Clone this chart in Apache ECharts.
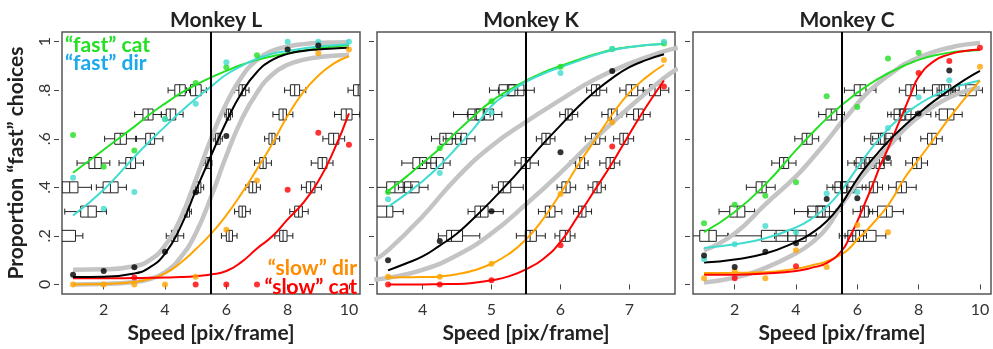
<!DOCTYPE html>
<html>
<head>
<meta charset="utf-8">
<script src="https://cdn.jsdelivr.net/npm/echarts@6/dist/echarts.min.js"></script>
<style>
  html, body { margin: 0; padding: 0; background: #fff; }
  #chart { width: 993px; height: 349px; }
</style>
</head>
<body>
<div id="chart"></div>
<script>
// ---- data: Monkey L ----
const L_x = [1, 2, 3, 3.5, 4, 4.5, 5, 5.5, 6, 6.5, 7, 7.5, 8, 8.5, 9, 9.5, 10]
const L_fastCat = [0.46, 0.555, 0.65, 0.7, 0.745, 0.787, 0.822, 0.853, 0.88, 0.905, 0.925, 0.94, 0.953, 0.963, 0.972, 0.98, 0.985]
const L_fastDir = [0.284, 0.39, 0.525, 0.59, 0.65, 0.71, 0.765, 0.815, 0.865, 0.9, 0.93, 0.95, 0.962, 0.972, 0.98, 0.985, 0.99]
const L_model = [0.03, 0.032, 0.045, 0.07, 0.127, 0.235, 0.385, 0.53, 0.67, 0.79, 0.875, 0.925, 0.95, 0.962, 0.968, 0.972, 0.975]
const L_slowDir = [0, 0.002, 0.01, 0.022, 0.045, 0.088, 0.145, 0.208, 0.285, 0.375, 0.475, 0.58, 0.695, 0.79, 0.86, 0.91, 0.94]
const L_slowCat = [0.025, 0.025, 0.026, 0.027, 0.028, 0.03, 0.034, 0.041, 0.055, 0.093, 0.148, 0.198, 0.268, 0.335, 0.425, 0.55, 0.705]
const L_grayHi = [0.06, 0.062, 0.075, 0.1, 0.16, 0.27, 0.43, 0.6, 0.745, 0.855, 0.925, 0.962, 0.98, 0.99, 0.995, 0.997, 0.998]
const L_grayLo = [0, 0.002, 0.01, 0.022, 0.05, 0.11, 0.21, 0.36, 0.53, 0.68, 0.79, 0.865, 0.905, 0.925, 0.936, 0.942, 0.945]

const L_dotX = [1, 2, 3, 4, 5, 6, 7, 8, 9, 10]
const L_dotFastCat = [0.616, 0.485, 0.552, 0.681, 0.83, 0.895, 0.944, null, null, null]
const L_dotFastDir = [0.439, 0.312, 0.381, 0.68, 0.744, 0.915, null, 1.0, 1.0, 1.0]
const L_dotModel = [0.04, 0.055, 0.071, 0.135, 0.38, 0.611, null, 0.968, 0.984, null]
const L_dotSlowDir = [0, 0, 0, 0, 0.031, 0.225, 0.428, null, 0.952, 0.968]
const L_dotSlowCat = [null, null, 0.028, null, 0, 0, 0, 0.39, 0.625, 0.575]

// [level, low whisker, q1, median, q3, high whisker]
const L_boxes = [
  [0.8, 4.1, 4.32, 4.48, 4.66, 4.8], [0.8, 4.7, 4.83, 5.0, 5.18, 5.35], [0.8, 6.27, 6.41, 6.52, 6.63, 6.74], [0.8, 7.9, 8.09, 8.23, 8.39, 8.59], [0.8, 9.97, 10.15, 10.3, 10.5, 10.7],
  [0.7, 3.01, 3.28, 3.45, 3.61, 3.88], [0.7, 3.88, 4.04, 4.17, 4.35, 4.59], [0.7, 5.95, 6.0, 6.07, 6.14, 6.2], [0.7, 7.52, 7.72, 7.85, 7.96, 8.17], [0.7, 9.53, 9.75, 9.91, 10.1, 10.35],
  [0.6, 2.03, 2.36, 2.54, 2.74, 3.04], [0.6, 3.07, 3.37, 3.52, 3.66, 3.93], [0.6, 5.59, 5.65, 5.73, 5.8, 5.87], [0.6, 7.25, 7.39, 7.49, 7.59, 7.74], [0.6, 9.15, 9.34, 9.5, 9.67, 9.86],
  [0.5, 1.13, 1.52, 1.71, 1.92, 2.2], [0.5, 2.5, 2.72, 2.88, 3.04, 3.3], [0.5, 5.26, 5.33, 5.4, 5.48, 5.53], [0.5, 6.92, 7.09, 7.2, 7.3, 7.47], [0.5, 8.77, 8.99, 9.13, 9.28, 9.48],
  [0.4, 0.3, 0.64, 0.89, 1.16, 1.6], [0.4, 1.76, 1.98, 2.22, 2.47, 2.74], [0.4, 4.93, 5.0, 5.09, 5.17, 5.26], [0.4, 6.63, 6.74, 6.86, 6.98, 7.11], [0.4, 8.45, 8.61, 8.75, 8.89, 9.1],
  [0.3, 0.73, 1.25, 1.49, 1.76, 2.09], [0.3, 4.59, 4.64, 4.72, 4.8, 4.86], [0.3, 6.27, 6.41, 6.52, 6.63, 6.78], [0.3, 8.07, 8.23, 8.36, 8.48, 8.67],
  [0.2, 0.2, 0.45, 0.62, 1.08, 1.32], [0.2, 4.04, 4.21, 4.29, 4.42, 4.61], [0.2, 5.84, 6.0, 6.09, 6.2, 6.35], [0.2, 7.58, 7.74, 7.85, 7.98, 8.17]
]

// ---- data: Monkey K ----
const K_x = [3.5, 3.75, 4, 4.25, 4.5, 4.75, 5, 5.25, 5.5, 5.75, 6, 6.25, 6.5, 6.75, 7, 7.25, 7.5]
const K_fastCat = [0.385, 0.44, 0.5, 0.56, 0.63, 0.695, 0.755, 0.8, 0.84, 0.873, 0.9, 0.925, 0.948, 0.967, 0.978, 0.986, 0.992]
const K_fastDir = [0.32, 0.37, 0.425, 0.49, 0.565, 0.645, 0.735, 0.79, 0.835, 0.868, 0.895, 0.92, 0.945, 0.965, 0.977, 0.986, 0.992]
const K_model = [0.058, 0.085, 0.115, 0.16, 0.21, 0.275, 0.345, 0.42, 0.5, 0.58, 0.655, 0.73, 0.795, 0.85, 0.895, 0.925, 0.948]
const K_slowDir = [0.028, 0.029, 0.03, 0.033, 0.042, 0.058, 0.085, 0.125, 0.185, 0.27, 0.375, 0.49, 0.595, 0.7, 0.79, 0.855, 0.905]
const K_slowCat = [0, 0, 0, 0.001, 0.002, 0.007, 0.017, 0.033, 0.062, 0.105, 0.175, 0.28, 0.39, 0.5, 0.62, 0.735, 0.84]
const K_grayX = [3.3, 3.5, 4, 4.5, 5, 5.5, 6, 6.5, 7, 7.5, 7.7]
const K_grayHi = [0.1, 0.14, 0.28, 0.44, 0.57, 0.67, 0.76, 0.845, 0.91, 0.96, 0.975]
const K_grayLo = [0.02, 0.027, 0.06, 0.12, 0.21, 0.33, 0.46, 0.6, 0.73, 0.85, 0.89]

const K_dotX = [3.5, 4.25, 5, 6, 6.75, 7.5]
const K_dotFastCat = [0.381, 0.561, 0.755, 0.897, 0.97, 0.993]
const K_dotFastDir = [0.351, 0.459, 0.708, 0.871, 0.971, 1.0]
const K_dotModel = [0.099, 0.179, 0.301, 0.545, 0.879, null]
const K_dotSlowDir = [0.032, 0.032, 0.085, 0.372, 0.668, 0.925]
const K_dotSlowCat = [0, 0, 0.017, 0.161, 0.568, 0.815]

const K_boxes = [
  [0.8, 4.97, 5.11, 5.23, 5.34, 5.5], [0.8, 5.1, 5.25, 5.38, 5.47, 5.62], [0.8, 6.38, 6.45, 6.52, 6.57, 6.67], [0.8, 6.86, 6.95, 7.03, 7.12, 7.2], [0.8, 7.2, 7.29, 7.37, 7.45, 7.57],
  [0.7, 4.45, 4.66, 4.76, 4.88, 4.98], [0.7, 4.65, 4.78, 4.9, 5.03, 5.15], [0.7, 5.99, 6.07, 6.11, 6.17, 6.25], [0.7, 6.6, 6.69, 6.74, 6.82, 6.89], [0.7, 6.96, 7.06, 7.13, 7.2, 7.3],
  [0.6, 4.13, 4.25, 4.34, 4.43, 4.55], [0.6, 4.3, 4.48, 4.56, 4.64, 4.76], [0.6, 5.65, 5.73, 5.79, 5.85, 5.92], [0.6, 6.36, 6.45, 6.51, 6.57, 6.65], [0.6, 6.77, 6.86, 6.91, 6.98, 7.06],
  [0.5, 3.7, 3.86, 3.96, 4.06, 4.2], [0.5, 4.0, 4.12, 4.2, 4.3, 4.4], [0.5, 5.34, 5.43, 5.49, 5.56, 5.68], [0.5, 6.14, 6.22, 6.28, 6.35, 6.4], [0.5, 6.57, 6.66, 6.72, 6.78, 6.86],
  [0.4, 3.3, 3.48, 3.6, 3.72, 3.85], [0.4, 3.65, 3.74, 3.83, 3.95, 4.08], [0.4, 5.01, 5.1, 5.17, 5.28, 5.46], [0.4, 5.95, 6.02, 6.08, 6.14, 6.22], [0.4, 6.4, 6.47, 6.53, 6.59, 6.65],
  [0.3, 3.2, 3.33, 3.48, 3.57, 3.72], [0.3, 4.66, 4.76, 4.84, 4.95, 5.17], [0.3, 5.68, 5.78, 5.84, 5.92, 6.02], [0.3, 6.19, 6.26, 6.31, 6.37, 6.45],
  [0.2, 4.23, 4.35, 4.42, 4.58, 4.83], [0.2, 5.36, 5.49, 5.56, 5.65, 5.78], [0.2, 5.92, 5.99, 6.07, 6.14, 6.21]
]

// ---- data: Monkey C ----
const C_x = [1, 2, 3, 4, 4.5, 5, 5.5, 5.75, 6, 6.25, 6.5, 6.75, 7, 7.25, 7.5, 7.75, 8, 8.5, 9, 9.5, 10]
const C_fastCat = [0.215, 0.298, 0.412, 0.553, 0.62, 0.683, 0.74, 0.765, 0.79, 0.812, 0.833, 0.852, 0.87, 0.885, 0.9, 0.913, 0.925, 0.943, 0.955, 0.962, 0.966]
const C_fastDir = [0.15, 0.165, 0.19, 0.235, 0.27, 0.32, 0.39, 0.435, 0.48, 0.525, 0.567, 0.605, 0.64, 0.67, 0.697, 0.72, 0.742, 0.778, 0.805, 0.825, 0.84]
const C_model = [0.09, 0.103, 0.127, 0.175, 0.21, 0.26, 0.335, 0.385, 0.435, 0.478, 0.517, 0.553, 0.588, 0.62, 0.65, 0.678, 0.705, 0.755, 0.8, 0.843, 0.88]
const C_slowDir = [0.047, 0.048, 0.05, 0.065, 0.078, 0.095, 0.125, 0.15, 0.185, 0.215, 0.25, 0.285, 0.325, 0.375, 0.43, 0.475, 0.515, 0.6, 0.685, 0.765, 0.84]
const C_slowCat = [0.04, 0.04, 0.045, 0.055, 0.068, 0.088, 0.14, 0.195, 0.26, 0.335, 0.41, 0.49, 0.56, 0.635, 0.71, 0.785, 0.855, 0.92, 0.948, 0.962, 0.968]
const C_grayHi = [0.14, 0.21, 0.33, 0.445, 0.515, 0.59, 0.67, 0.705, 0.745, 0.78, 0.81, 0.836, 0.86, 0.883, 0.905, 0.92, 0.935, 0.958, 0.975, 0.988, 0.995]
const C_grayLo = [0.008, 0.028, 0.068, 0.128, 0.17, 0.232, 0.33, 0.375, 0.42, 0.46, 0.497, 0.532, 0.565, 0.6, 0.635, 0.665, 0.69, 0.735, 0.77, 0.795, 0.81]

const C_dotX = [1, 2, 3, 4, 5, 6, 7, 8, 9, 10]
const C_dotFastCat = [0.252, 0.328, 0.365, 0.421, 0.775, 0.731, 0.931, 0.955, null, null]
const C_dotFastDir = [0.104, 0.165, 0.241, 0.215, 0.375, 0.381, 0.644, 0.771, 0.841, null]
const C_dotModel = [0.119, 0.072, 0.135, 0.17, 0.352, 0.355, 0.521, 0.704, 0.881, null]
const C_dotSlowDir = [0.025, 0.055, 0.025, 0.141, 0.072, 0.245, 0.215, null, null, 0.897]
const C_dotSlowCat = [null, 0.025, null, 0.075, null, null, null, 0.871, 0.921, 0.975]

const C_boxes = [
  [0.8, 5.58, 5.9, 6.09, 6.28, 6.61], [0.8, 7.37, 7.58, 7.75, 7.93, 8.18], [0.8, 8.18, 8.45, 8.67, 8.85, 9.1], [0.8, 8.6, 8.75, 8.98, 9.05, 9.2], [0.8, 9.15, 9.32, 9.54, 9.88, 10.08],
  [0.7, 4.74, 4.98, 5.15, 5.33, 5.58], [0.7, 6.99, 7.2, 7.37, 7.55, 7.9], [0.7, 7.1, 7.4, 7.58, 7.75, 8.4], [0.7, 8.56, 8.67, 8.94, 9.15, 9.42],
  [0.6, 3.96, 4.2, 4.35, 4.53, 4.74], [0.6, 6.23, 6.44, 6.69, 6.88, 7.1], [0.6, 6.5, 6.75, 6.93, 7.15, 7.4], [0.6, 8.07, 8.29, 8.43, 8.58, 8.77],
  [0.5, 3.21, 3.46, 3.6, 3.76, 4.0], [0.5, 5.69, 5.96, 6.12, 6.28, 6.5], [0.5, 5.9, 6.23, 6.39, 6.55, 6.85], [0.5, 6.45, 6.61, 6.72, 6.88, 7.1], [0.5, 7.58, 7.8, 7.94, 8.09, 8.29],
  [0.4, 2.38, 2.7, 2.89, 3.03, 3.32], [0.4, 5.01, 5.27, 5.47, 5.65, 5.95], [0.4, 5.2, 5.45, 5.69, 5.9, 6.28], [0.4, 6.16, 6.39, 6.52, 6.66, 6.82], [0.4, 7.02, 7.27, 7.44, 7.6, 7.92],
  [0.3, 1.49, 1.84, 2.08, 2.33, 2.65], [0.3, 3.95, 4.38, 4.71, 4.95, 5.31], [0.3, 4.4, 4.65, 4.87, 5.09, 5.5], [0.3, 5.86, 6.1, 6.23, 6.36, 6.5], [0.3, 6.4, 6.66, 6.95, 7.14, 7.5],
  [0.2, 0.3, 0.86, 1.16, 1.4, 1.78], [0.2, 1.78, 2.87, 3.35, 3.73, 4.66], [0.2, 3.3, 3.73, 4.0, 4.33, 4.66], [0.2, 5.41, 5.69, 5.85, 6.07, 6.3], [0.2, 5.6, 5.95, 6.2, 6.61, 6.93]
]

const Y_TICKS = [0, 0.2, 0.4, 0.6, 0.8, 1]
const VLINE = 5.5

const FONT = 'Lato'
const COL = {
  fastCat: '#22e022',
  fastDir: '#40dcd0',
  model: '#000000',
  slowDir: '#ffa500',
  slowCat: '#ff0000',
  gray: '#c4c4c4'
}

const chart = echarts.init(document.getElementById('chart'))

const zip = (xs, ys) => xs.map((x, i) => [x, ys[i]]).filter(p => p[1] != null)

const renderBox = (params, api) => {
  const lvl = api.value(0)
  const pt = i => api.coord([api.value(i), lvl])
  const lo = pt(1), q1 = pt(2), md = pt(3), q3 = pt(4), hi = pt(5)
  const cy = lo[1]
  const bh = 5.5, ch = 3
  const st = { stroke: '#222', lineWidth: 1, fill: 'none' }
  return {
    type: 'group',
    children: [
      { type: 'line', shape: { x1: lo[0], y1: cy, x2: q1[0], y2: cy }, style: st },
      { type: 'line', shape: { x1: q3[0], y1: cy, x2: hi[0], y2: cy }, style: st },
      { type: 'line', shape: { x1: lo[0], y1: cy - ch, x2: lo[0], y2: cy + ch }, style: st },
      { type: 'line', shape: { x1: hi[0], y1: cy - ch, x2: hi[0], y2: cy + ch }, style: st },
      { type: 'rect', shape: { x: q1[0], y: cy - bh, width: q3[0] - q1[0], height: bh * 2 }, style: st },
      { type: 'line', shape: { x1: md[0], y1: cy - bh, x2: md[0], y2: cy + bh }, style: st }
    ]
  }
}

const lineSeries = (idx, xs, ys, color, width, z) => ({
  type: 'line',
  xAxisIndex: idx,
  yAxisIndex: idx,
  data: zip(xs, ys),
  smooth: 0.5,
  showSymbol: false,
  lineStyle: { color: color, width: width },
  z: z,
  silent: true
})

const dotSeries = (idx, xs, ys, color) => ({
  type: 'scatter',
  xAxisIndex: idx,
  yAxisIndex: idx,
  data: zip(xs, ys),
  symbolSize: 6,
  itemStyle: { color: color },
  z: 5,
  silent: true
})

const makePanel = (idx, p) => [
  {
    type: 'custom',
    xAxisIndex: idx,
    yAxisIndex: idx,
    data: p.boxes,
    encode: { x: [1, 2, 3, 4, 5], y: 0 },
    renderItem: renderBox,
    clip: true,
    z: 1,
    silent: true
  },
  lineSeries(idx, p.grayX, p.grayHi, COL.gray, 4.5, 2),
  lineSeries(idx, p.grayX, p.grayLo, COL.gray, 4.5, 2),
  lineSeries(idx, p.x, p.fastCat, COL.fastCat, 2, 3),
  lineSeries(idx, p.x, p.fastDir, COL.fastDir, 2, 3),
  lineSeries(idx, p.x, p.slowDir, COL.slowDir, 2, 3),
  lineSeries(idx, p.x, p.slowCat, COL.slowCat, 2, 3),
  lineSeries(idx, p.x, p.model, COL.model, 2, 4),
  dotSeries(idx, p.dotX, p.dots[0], COL.fastCat),
  dotSeries(idx, p.dotX, p.dots[1], COL.fastDir),
  dotSeries(idx, p.dotX, p.dots[2], COL.slowDir),
  dotSeries(idx, p.dotX, p.dots[3], COL.slowCat),
  Object.assign(dotSeries(idx, p.dotX, p.dots[4], COL.model), {
    markLine: {
      silent: true,
      symbol: 'none',
      label: { show: false },
      lineStyle: { color: '#000', width: 2, type: 'solid' },
      data: [{ xAxis: VLINE }],
      z: 6
    }
  })
]

const panels = [
  { x: L_x, grayX: L_x, fastCat: L_fastCat, fastDir: L_fastDir, model: L_model, slowDir: L_slowDir, slowCat: L_slowCat, grayHi: L_grayHi, grayLo: L_grayLo,
    dotX: L_dotX, dots: [L_dotFastCat, L_dotFastDir, L_dotSlowDir, L_dotSlowCat, L_dotModel], boxes: L_boxes },
  { x: K_x, grayX: K_grayX, fastCat: K_fastCat, fastDir: K_fastDir, model: K_model, slowDir: K_slowDir, slowCat: K_slowCat, grayHi: K_grayHi, grayLo: K_grayLo,
    dotX: K_dotX, dots: [K_dotFastCat, K_dotFastDir, K_dotSlowDir, K_dotSlowCat, K_dotModel], boxes: K_boxes },
  { x: C_x, grayX: C_x, fastCat: C_fastCat, fastDir: C_fastDir, model: C_model, slowDir: C_slowDir, slowCat: C_slowCat, grayHi: C_grayHi, grayLo: C_grayLo,
    dotX: C_dotX, dots: [C_dotFastCat, C_dotFastDir, C_dotSlowDir, C_dotSlowCat, C_dotModel], boxes: C_boxes }
]

const gridLefts = [62, 377, 693]
const xRanges = [[0.64, 10.36], [3.34, 7.66], [0.64, 10.36]]
const xTicks = [[2, 4, 6, 8, 10], [4, 5, 6, 7], [2, 4, 6, 8, 10]]
const titles = ['Monkey L', 'Monkey K', 'Monkey C']

const option = {
  animation: false,
  textStyle: { fontFamily: FONT },
  title: titles.map((t, i) => ({
    text: t,
    left: gridLefts[i] + 149,
    top: 5,
    textAlign: 'center',
    textStyle: { fontFamily: FONT, fontWeight: 'bold', fontSize: 21, color: '#222' }
  })),
  grid: gridLefts.map(l => ({
    left: l, top: 32, width: 298, height: 270,
    show: true, borderColor: '#555', borderWidth: 1.5, backgroundColor: 'transparent'
  })),
  xAxis: xRanges.map((r, i) => ({
    type: 'value',
    gridIndex: i,
    min: r[0],
    max: r[1],
    offset: 2,
    axisLine: { show: false },
    splitLine: { show: false },
    axisTick: { show: true, length: 5, customValues: xTicks[i], lineStyle: { color: '#444', width: 1 } },
    axisLabel: { customValues: xTicks[i], margin: 6, fontSize: 16, color: '#333', fontFamily: FONT },
    name: 'Speed [pix/frame]',
    nameLocation: 'middle',
    nameGap: 23,
    nameTextStyle: { fontFamily: FONT, fontWeight: 'bold', fontSize: 21, color: '#222' }
  })),
  yAxis: [0, 1, 2].map(i => ({
    type: 'value',
    gridIndex: i,
    min: -0.04,
    max: 1.04,
    offset: 3,
    axisLine: { show: false },
    splitLine: { show: false },
    axisTick: { show: true, length: 5, customValues: Y_TICKS, lineStyle: { color: '#444', width: 1 } },
    axisLabel: {
      show: i === 0,
      customValues: Y_TICKS,
      rotate: 90,
      margin: 6,
      fontSize: 16,
      color: '#333',
      fontFamily: FONT,
      formatter: v => (v === 0 ? '0' : v === 1 ? '1' : v.toFixed(1).replace(/^0/, ''))
    },
    name: i === 0 ? 'Proportion \u201cfast\u201d choices' : '',
    nameLocation: 'middle',
    nameGap: 32,
    nameRotate: 90,
    nameTextStyle: { fontFamily: FONT, fontWeight: 'bold', fontSize: 21, color: '#222' }
  })),
  graphic: [
    { type: 'text', left: 65, top: 35, z: 100, style: { text: '\u201cfast\u201d cat', fill: '#22e022', font: 'bold 21px Lato' } },
    { type: 'text', left: 65, top: 53, z: 100, style: { text: '\u201cfast\u201d dir', fill: '#1ba9ec', font: 'bold 21px Lato' } },
    { type: 'text', right: 636, top: 258, z: 100, style: { text: '\u201cslow\u201d dir', fill: '#ff8c00', font: 'bold 21px Lato' } },
    { type: 'text', right: 636, top: 277, z: 100, style: { text: '\u201cslow\u201d cat', fill: '#ff0000', font: 'bold 21px Lato' } }
  ],
  series: panels.flatMap((p, i) => makePanel(i, p))
}

chart.setOption(option)
</script>
</body>
</html>
